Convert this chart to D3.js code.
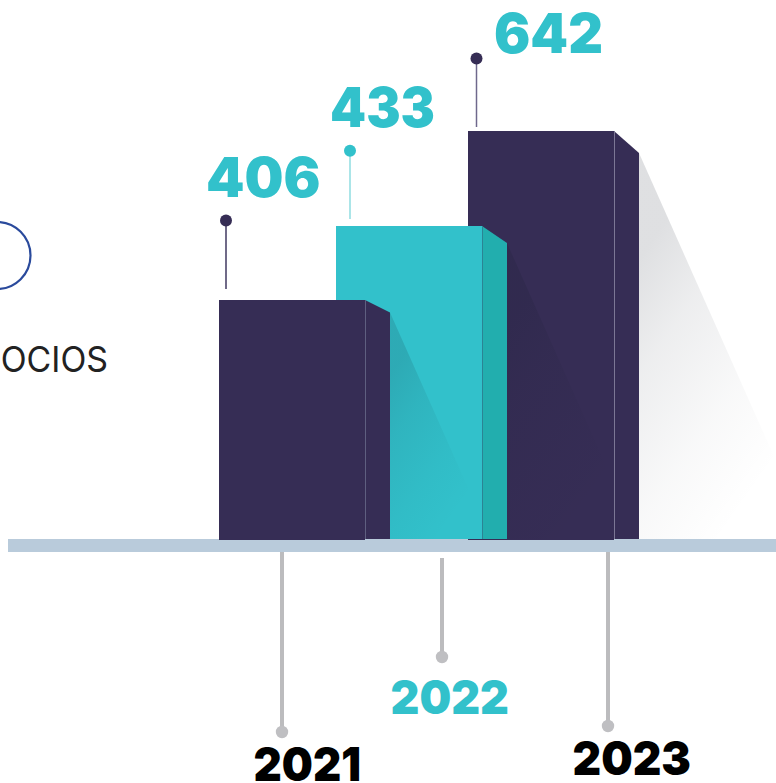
<!DOCTYPE html>
<html><head><meta charset="utf-8">
<style>html,body{margin:0;padding:0;background:#fff;overflow:hidden}svg{display:block}text{font-family:Inter,"Noto Sans",sans-serif}</style>
<script src="https://cdn.jsdelivr.net/npm/d3@7"></script>
</head><body><div id="c"></div>
<script>
const years = ["2021","2022","2023"];
const values = [406,433,642];
const yearColors = ["#000000","#32c1cb","#000000"];
const barColors = ["#362d55","#32c1cb","#362d55"];
const sideColors = ["#362d55","#22aeae","#362d55"];
const edgeColors = ["#5f5f80","#2b8494","#7c7795"];
const leaderColors = ["#413961","#8fdce1","#6f688c"];
const dotColors = ["#362d55","#32c1cb","#362d55"];
const otherLabel = "SOCIOS";

const W=776,H=783;
const svg=d3.select("#c").append("svg").attr("width",W).attr("height",H);
const y=d3.scaleLinear().domain([0,406,433,642]).range([540,300,226,131]);
const x=d3.scaleOrdinal().domain(years).range([219,336,468]);
const barW=146, depth=25;
const rise=d3.scaleOrdinal().domain(years).range([12.5,17,22]);
const stemX=d3.scaleOrdinal().domain(years).range([282,442,608]);
const stemTop=d3.scaleOrdinal().domain(years).range([552,558,552]);
const stemEnd=d3.scaleOrdinal().domain(years).range([732,657,726]);
const yearBox=d3.scaleOrdinal().domain(years).range([[253.5,361,780.5],[390.5,509,713.5],[572.5,691,774.5]]);
const leadX=d3.scaleOrdinal().domain(years).range([226,350,476.5]);
const leadDot=d3.scaleOrdinal().domain(years).range([220.5,150.7,58.5]);
const leadEnd=d3.scaleOrdinal().domain(years).range([289,219,127]);
const valBox=d3.scaleOrdinal().domain(years).range([[206,320.5,197],[330,435,127],[494,603,52.7]]);

const rows=years.map((yr,i)=>({yr,i,v:values[i]}));
const defs=svg.append("defs");
rows.forEach(d=>{
  const g=defs.append("linearGradient").attr("id","sh"+d.yr)
    .attr("x1",0).attr("y1",0).attr("x2",0.62).attr("y2",0.98);
  [[0.2,0.135],[0.42,0.075],[0.7,0.028],[0.95,0]].forEach(s=>
    g.append("stop").attr("offset",s[0]).attr("stop-color","#111827").attr("stop-opacity",s[1]));
});

// left partial emblem and label
svg.append("circle").attr("cx",-3).attr("cy",255.5).attr("r",33.5)
  .attr("fill","none").attr("stroke","#2a4a9c").attr("stroke-width",2.2);
svg.append("text").attr("x",-21).attr("y",372)
  .attr("textLength",129).attr("lengthAdjust","spacingAndGlyphs")
  .attr("font-size",35.5).attr("font-weight",400).attr("fill","#222222").text(otherLabel);

// axis band
svg.append("rect").attr("x",8).attr("y",539).attr("width",W-8).attr("height",13).attr("fill","#b9cbdb");

// stems
const stems=svg.append("g").selectAll("g").data(rows).join("g");
stems.append("line").attr("x1",d=>stemX(d.yr)).attr("x2",d=>stemX(d.yr))
  .attr("y1",d=>stemTop(d.yr)).attr("y2",d=>stemEnd(d.yr))
  .attr("stroke","#bcbcbe").attr("stroke-width",4);
stems.append("circle").attr("cx",d=>stemX(d.yr)).attr("cy",d=>stemEnd(d.yr)).attr("r",6.2).attr("fill","#bfbfc2");

// bars, back to front
const bars=svg.append("g").selectAll("g").data(rows.slice().reverse()).join("g");
const base=y(0);
const slope=0.445;
bars.append("path").attr("fill",d=>`url(#sh${d.yr})`).attr("d",d=>{
  const x0=x(d.yr)+barW+depth, t=y(d.v)+rise(d.yr), b=base-1;
  return d3.line()([[x0,t],[x0+slope*(b-t),b],[x0,b]])+"Z";
});
bars.append("rect").attr("x",d=>x(d.yr)).attr("y",d=>y(d.v)).attr("width",barW)
  .attr("height",d=>base-y(d.v)-(d.yr==="2022"?1:0)).attr("fill",d=>barColors[d.i]);
bars.append("path").attr("fill",d=>sideColors[d.i]).attr("d",d=>{
  const x0=x(d.yr)+barW,t=y(d.v),b=base-1;
  return d3.line()([[x0,t],[x0+depth,t+rise(d.yr)],[x0+depth,b],[x0,b]])+"Z";
});
bars.append("line").attr("x1",d=>x(d.yr)+barW+.5).attr("x2",d=>x(d.yr)+barW+.5)
  .attr("y1",d=>y(d.v)).attr("y2",base-1).attr("stroke",d=>edgeColors[d.i]).attr("stroke-width",1);

// leaders
const leads=svg.append("g").selectAll("g").data(rows).join("g");
leads.append("line").attr("x1",d=>leadX(d.yr)).attr("x2",d=>leadX(d.yr))
  .attr("y1",d=>leadDot(d.yr)).attr("y2",d=>leadEnd(d.yr))
  .attr("stroke",d=>leaderColors[d.i]).attr("stroke-width",1.5);
leads.append("circle").attr("cx",d=>leadX(d.yr)).attr("cy",d=>leadDot(d.yr)).attr("r",6).attr("fill",d=>dotColors[d.i]);

// value labels
svg.append("g").selectAll("text").data(rows).join("text")
  .attr("x",d=>valBox(d.yr)[0]).attr("y",d=>valBox(d.yr)[2])
  .attr("textLength",d=>valBox(d.yr)[1]-valBox(d.yr)[0]).attr("lengthAdjust","spacingAndGlyphs")
  .attr("font-size",55).attr("font-weight",900).attr("fill","#32c1cb").text(d=>d.v);

// year labels
svg.append("g").selectAll("text").data(rows).join("text")
  .attr("x",d=>yearBox(d.yr)[0]).attr("y",d=>yearBox(d.yr)[2])
  .attr("textLength",d=>yearBox(d.yr)[1]-yearBox(d.yr)[0]).attr("lengthAdjust","spacingAndGlyphs")
  .attr("font-size",47).attr("font-weight",900).attr("fill",d=>yearColors[d.i]).text(d=>d.yr);
</script></body></html>
